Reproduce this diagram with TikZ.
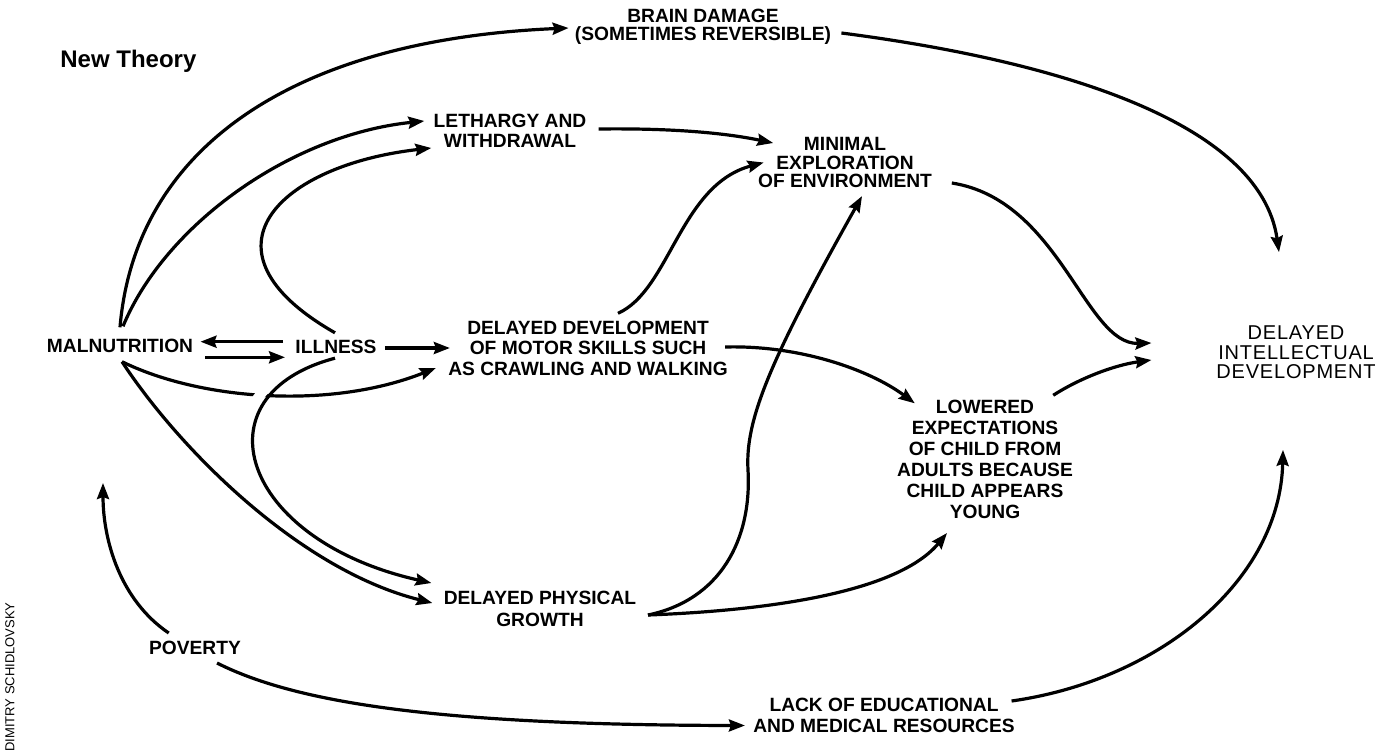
\documentclass[tikz,border=0pt]{standalone}
\usepackage{fontspec}
\setmainfont{Liberation Sans}
\newfontfamily\lblfont{Liberation Sans}
\newfontfamily\dieFont{Liberation Sans}[LetterSpace=4]
\usetikzlibrary{arrows.meta,calc}
\tikzset{
  lbl/.style={inner sep=0pt, align=center, font=\lblfont\bfseries\fontsize{9.6}{10.25}\selectfont},
  dielbl/.style={inner sep=0pt, align=center, font=\dieFont\fontsize{10}{9.75}\selectfont},
  conn/.style={line width=1.6pt, -{Stealth[length=8pt,width=6pt,inset=1pt]}},
  over/.style={preaction={draw=white, line width=5pt, -, shorten <=12pt, shorten >=40pt}},
}
\begin{document}
\begin{tikzpicture}[x=0.5pt,y=-0.5pt]
\useasboundingbox (0,0) rectangle (1390,754);
% labels
\node[inner sep=0pt, anchor=base west, font=\bfseries\fontsize{12}{14}\selectfont] (title) at (60,68) {New Theory};
\node[lbl] (mal) at (120,345.5) {MALNUTRITION};
\node[lbl] (illness) at (336,347) {ILLNESS};
\node[lbl, font=\lblfont\bfseries\fontsize{9.6}{9}\selectfont] (brain) at (703,27) {BRAIN DAMAGE\\(SOMETIMES REVERSIBLE)};
\node[lbl, font=\lblfont\bfseries\fontsize{9.6}{10}\selectfont] (leth) at (510,130.5) {LETHARGY AND\\WITHDRAWAL};
\node[lbl, font=\lblfont\bfseries\fontsize{9.6}{9.25}\selectfont] (minimal) at (845,162.5) {MINIMAL\\EXPLORATION\\OF ENVIRONMENT};
\node[lbl] (ddms) at (588,348) {DELAYED DEVELOPMENT\\OF MOTOR SKILLS SUCH\\AS CRAWLING AND WALKING};
\node[lbl, font=\lblfont\bfseries\fontsize{9.6}{10.75}\selectfont] (dpg) at (540,609) {DELAYED PHYSICAL\\GROWTH};
\node[lbl, font=\lblfont\bfseries\fontsize{9.6}{10.5}\selectfont] (lowered) at (985,459) {LOWERED\\EXPECTATIONS\\OF CHILD FROM\\ADULTS BECAUSE\\CHILD APPEARS\\YOUNG};
\node[dielbl] (die) at (1296,352.5) {DELAYED\\INTELLECTUAL\\DEVELOPMENT};
\node[lbl] (poverty) at (195,648) {POVERTY};
\node[lbl, font=\lblfont\bfseries\fontsize{9.6}{10.5}\selectfont] (lack) at (884,715.5) {LACK OF EDUCATIONAL\\AND MEDICAL RESOURCES};
\node[inner sep=0pt, rotate=90, font=\fontsize{6.5}{7}\selectfont] (credit) at (10,677) {DIMITRY SCHIDLOVSKY};
% connectors
\draw[conn] ($(mal.north)+(0,-11)$) .. controls (135,150) and (290,40) .. ($(brain.west)+(-6,1)$);
\draw[conn] ($(mal.north)+(3,-12)$) .. controls (165,225) and (290,135) .. ($(leth.west)+(-9,-9.5)$);
\draw[conn] ($(illness.north)+(-1,-7)$) .. controls (190,250) and (280,165) .. ($(leth.west)+(-2,17.5)$);
\draw[conn] ($(illness.west)+(-12,-5.3)$) -- ($(mal.east)+(7,-3.8)$);
\draw[conn] ($(mal.east)+(12,11.8)$) -- ($(illness.west)+(-10,10.3)$);
\draw[conn] ($(illness.east)+(8,1)$) -- ($(ddms.west)+(2,0)$);
\draw[conn] ($(mal.south)+(2,9)$) .. controls (200,400) and (330,410) .. ($(ddms.west)+(-12,20)$);
\draw[conn,over] ($(illness.south)+(-1,4)$) .. controls (195,395) and (240,540) .. ($(dpg.west)+(-12,-26)$);
\draw[conn] ($(mal.south)+(2,9)$) .. controls (180,450) and (300,570) .. ($(dpg.west)+(-11,-6)$);
\draw[conn] ($(ddms.north)+(30,-7)$) .. controls (670,290) and (680,185) .. ($(minimal.west)+(6,0)$);
\draw[conn] ($(leth.east)+(12,-1.5)$) .. controls (680,128) and (730,134) .. ($(minimal.west)+(15.5,-19.5)$);
\draw[conn] ($(brain.east)+(10,6)$) .. controls (1050,60) and (1260,120) .. ($(die.north)+(-17,-73.5)$);
\draw[conn] ($(minimal.east)+(19.5,20.5)$) .. controls (1060,200) and (1085,345) .. ($(die.west)+(-64.6,-9.5)$);
\draw[conn] ($(lowered.north east)+(-20,-4)$) .. controls (1080,378) and (1115,365) .. ($(die.west)+(-64.6,7.5)$);
\draw[conn] ($(ddms.east)+(-3,-1)$) .. controls (800,345) and (870,370) .. ($(lowered.north west)+(18,4)$);
\draw[conn] ($(dpg.east)+(11.4,6)$) .. controls (720,600) and (752,540) .. (748,470) .. controls (745,420) and (770,360) .. ($(minimal.south)+(17,8)$);
\draw[conn] ($(dpg.east)+(11.4,6)$) .. controls (780,610) and (900,590) .. ($(lowered.south)+(-38,14.3)$);
\draw[conn] ($(poverty.north west)+(20,-7.8)$) .. controls (120,600) and (103,540) .. ($(mal.south)+(-17,130.3)$);
\draw[conn] ($(poverty.south)+(22,7.8)$) .. controls (300,705) and (450,725) .. ($(lack.west)+(-8,10)$);
\draw[conn] ($(lack.east)+(-3.5,-14.5)$) .. controls (1160,680) and (1280,580) .. ($(die.south)+(-13,70.5)$);
\end{tikzpicture}
\end{document}
